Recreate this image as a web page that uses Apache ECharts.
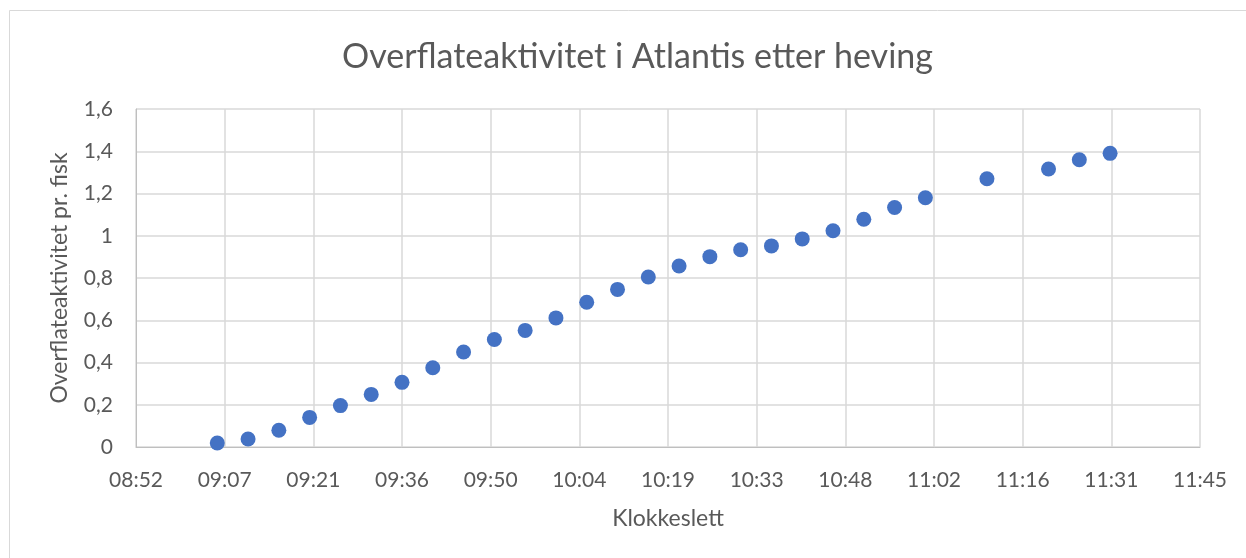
<!DOCTYPE html>
<html>
<head>
<meta charset="utf-8">
<script src="https://cdn.jsdelivr.net/npm/echarts@6/dist/echarts.min.js"></script>
<style>
  html, body { margin: 0; padding: 0; background: #fff; }
  #chart { width: 1246px; height: 558px; }
</style>
</head>
<body>
<div id="chart"></div>
<script>
// Measurement times (clock time) and surface activity per fish
const times = [
  "09:06", "09:11", "09:16", "09:21", "09:26", "09:31", "09:36", "09:41",
  "09:46", "09:51", "09:56", "10:01", "10:06", "10:11", "10:16", "10:21",
  "10:26", "10:31", "10:36", "10:41", "10:46", "10:51", "10:56", "11:01",
  "11:11", "11:21", "11:26", "11:31"
];
const activity = [
  0.019, 0.038, 0.079, 0.140, 0.196, 0.249, 0.306, 0.375,
  0.450, 0.509, 0.552, 0.611, 0.685, 0.746, 0.805, 0.857,
  0.901, 0.934, 0.952, 0.985, 1.024, 1.078, 1.134, 1.180,
  1.270, 1.316, 1.360, 1.390
];
const yTicks = ["0", "0,2", "0,4", "0,6", "0,8", "1", "1,2", "1,4", "1,6"];

// Time axis in minutes since midnight; 14.4 min steps (0.01 day)
const xMin = 532.8, xMax = 705.6, xStep = 14.4;

function toMinutes(t) {
  const [h, m] = t.split(":").map(Number);
  return h * 60 + m;
}
function fmtTime(v) {
  const total = Math.floor(v + 1e-6);
  const h = Math.floor(total / 60), m = total % 60;
  return String(h).padStart(2, "0") + ":" + String(m).padStart(2, "0");
}

const points = times.map((t, i) => [toMinutes(t), activity[i]]);
const font = "Lato, 'Open Sans', sans-serif";
const textColor = "#595959";

const chart = echarts.init(document.getElementById("chart"), null, { renderer: "canvas" });
chart.setOption({
  animation: false,
  backgroundColor: "#ffffff",
  title: {
    text: "Overflateaktivitet i Atlantis etter heving",
    left: 337,
    top: 35,
    textStyle: { fontFamily: font, fontSize: 34, fontWeight: "normal", color: textColor }
  },
  graphic: [{
    type: "rect",
    shape: { x: 9.5, y: 10.5, width: 1260, height: 580 },
    style: { fill: "none", stroke: "#d9d9d9", lineWidth: 1 },
    silent: true
  }],
  grid: { left: 136, right: 46, top: 109, bottom: 111 },
  xAxis: {
    type: "value",
    min: xMin,
    max: xMax,
    interval: xStep,
    name: "Klokkeslett",
    nameLocation: "middle",
    nameGap: 60,
    nameTextStyle: { fontFamily: font, fontSize: 23, color: textColor },
    axisLine: { show: true, lineStyle: { color: "#bfbfbf", width: 1 } },
    axisTick: { show: false },
    axisLabel: { formatter: fmtTime, fontFamily: font, fontSize: 21, color: textColor, margin: 23 },
    splitLine: { show: true, lineStyle: { color: "#d9d9d9", width: 1.5 } }
  },
  yAxis: {
    type: "value",
    min: 0,
    max: 1.6,
    interval: 0.2,
    name: "Overflateaktivitet pr. fisk",
    nameLocation: "middle",
    nameGap: 65,
    nameRotate: 90,
    nameTextStyle: { fontFamily: font, fontSize: 23, color: textColor },
    axisLine: { show: true, lineStyle: { color: "#bfbfbf", width: 1 } },
    axisTick: { show: false },
    axisLabel: {
      fontFamily: font, fontSize: 21, color: textColor, margin: 23,
      formatter: v => yTicks[Math.round(v / 0.2)]
    },
    splitLine: { show: true, lineStyle: { color: "#d9d9d9", width: 1.5 } }
  },
  series: [{
    type: "scatter",
    data: points,
    symbol: "circle",
    symbolSize: 15,
    itemStyle: { color: "#4472c4", opacity: 1 }
  }]
});
</script>
</body>
</html>
